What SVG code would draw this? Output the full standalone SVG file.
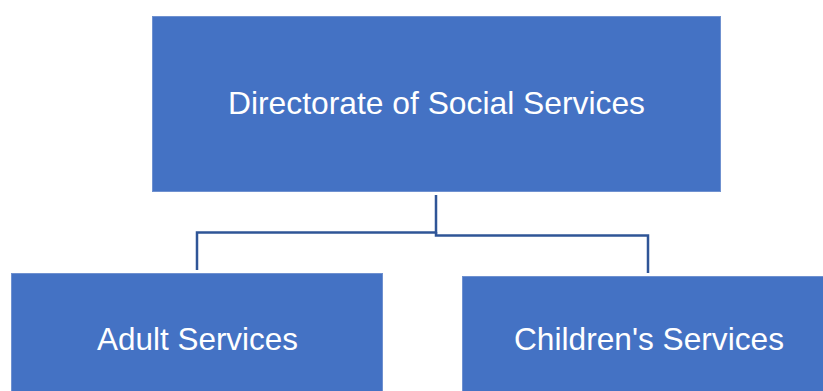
<svg xmlns="http://www.w3.org/2000/svg" width="823" height="391" viewBox="0 0 823 391">
<style>
.box{fill:#4472C4;stroke:#6F91D0;stroke-width:1}
.lbl{font-family:"Liberation Sans",Arial,sans-serif;font-size:31.5px;fill:#FFFFFF;text-anchor:middle}
.conn{fill:none;stroke:#2F5597;stroke-width:2.5}
</style>
<rect width="823" height="391" fill="#FFFFFF"/>
<g id="connectors">
<polyline class="conn" points="436,195 436,232.5 197,232.5 197,270"/>
<polyline class="conn" points="436,232 436,235.5 648,235.5 648,273"/>
</g>
<g id="directorate">
<rect class="box" x="152.5" y="16.5" width="568" height="175"/>
<text class="lbl" x="436.5" y="113.5" textLength="417" lengthAdjust="spacingAndGlyphs">Directorate of Social Services</text>
</g>
<g id="adult">
<rect class="box" x="11.5" y="273.5" width="371" height="130"/>
<text class="lbl" x="197.5" y="349.5" textLength="201" lengthAdjust="spacingAndGlyphs">Adult Services</text>
</g>
<g id="children">
<rect class="box" x="462.5" y="276.5" width="380" height="130"/>
<text class="lbl" x="649" y="349.5" textLength="270" lengthAdjust="spacingAndGlyphs">Children's Services</text>
</g>
</svg>
